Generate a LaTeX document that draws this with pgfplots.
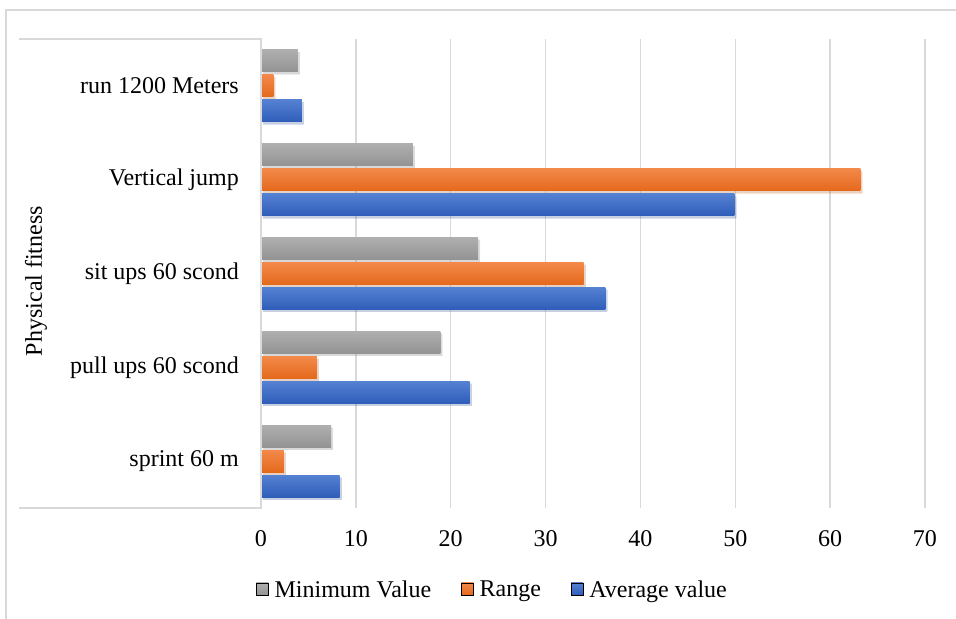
\documentclass[border=0pt]{standalone}
\usepackage{pgfplots}
\pgfplotsset{compat=1.18}
\usepackage{fontspec}
\setmainfont{Liberation Serif}
\usetikzlibrary{shadows}
\definecolor{gridgray}{HTML}{D9D9D9}
\definecolor{mintop}{HTML}{AFAFAF}
\definecolor{minbot}{HTML}{939393}
\definecolor{rngtop}{HTML}{F3894A}
\definecolor{rngbot}{HTML}{E4691C}
\definecolor{avgtop}{HTML}{5581D2}
\definecolor{avgbot}{HTML}{2F5EBA}
\newcommand\bigfont{\fontsize{24bp}{28bp}\selectfont}
\pgfplotsset{
  barshadow/.style={drop shadow={shadow xshift=2bp, shadow yshift=-2.5bp, opacity=0.18}},
  minbar/.style={draw=none, top color=mintop, bottom color=minbot, bar shift=25bp, barshadow, forget plot},
  rngbar/.style={draw=none, top color=rngtop, bottom color=rngbot, bar shift=0bp, barshadow, forget plot},
  avgbar/.style={draw=none, top color=avgtop, bottom color=avgbot, bar shift=-25bp, barshadow, forget plot},
}
\begin{document}
\begin{tikzpicture}
\useasboundingbox (-261bp,-111bp) rectangle (695bp,508bp);
\begin{axis}[
  scale only axis,
  width=664bp, height=469bp,
  xbar, bar width=22bp,
  xmin=0, xmax=70, ymin=-0.5, ymax=4.5,
  clip=false,
  axis line style={draw=none},
  major tick length=0pt,
  xtick={0,10,20,30,40,50,60,70},
  xticklabels={0,10,20,30,40,50,60,70},
  ytick={0,1,2,3,4},
  yticklabels={sprint 60 m, pull ups 60 scond, sit ups 60 scond, Vertical jump, run 1200 Meters},
  xmajorgrids, major grid style={gridgray, line width=1.5bp},
  xticklabel style={font=\bigfont, inner sep=0pt, anchor=north, yshift=-22bp},
  yticklabel style={font=\bigfont, inner sep=0pt, anchor=east, xshift=-22bp},
  ylabel={Physical fitness},
  ylabel style={font=\bigfont, at={(axis description cs:-0.3389,0.484)}, anchor=center, inner sep=0pt},
  legend columns=3,
  legend style={draw=none, fill=none, inner sep=0pt, at={(axis description cs:-0.00753,-0.1727)}, anchor=west,
    font=\bigfont, nodes={inner sep=0pt, anchor=west, text depth=0pt},
    /tikz/every odd column/.style={column sep=6bp},
    /tikz/every even column/.style={column sep=30bp}},
]
% Minimum Value
\addplot[minbar] coordinates {(7.4,0)};
\addplot[minbar] coordinates {(18.9,1)};
\addplot[minbar] coordinates {(22.9,2)};
\addplot[minbar] coordinates {(16.0,3)};
\addplot[minbar] coordinates {(3.9,4)};
% Range
\addplot[rngbar] coordinates {(2.4,0)};
\addplot[rngbar] coordinates {(5.9,1)};
\addplot[rngbar] coordinates {(34.0,2)};
\addplot[rngbar] coordinates {(63.2,3)};
\addplot[rngbar] coordinates {(1.3,4)};
% Average value
\addplot[avgbar] coordinates {(8.3,0)};
\addplot[avgbar] coordinates {(22.0,1)};
\addplot[avgbar] coordinates {(36.3,2)};
\addplot[avgbar] coordinates {(49.9,3)};
\addplot[avgbar] coordinates {(4.3,4)};
\addlegendimage{legend image code/.code={\fill[top color=mintop, bottom color=minbot] (0bp,-6bp) rectangle (12bp,6bp);}}
\addlegendimage{legend image code/.code={\fill[top color=rngtop, bottom color=rngbot] (0bp,-6bp) rectangle (12bp,6bp);}}
\addlegendimage{legend image code/.code={\fill[top color=avgtop, bottom color=avgbot] (0bp,-6bp) rectangle (12bp,6bp);}}
\legend{Minimum Value,Range,Average value}
\draw[gridgray, line width=1.5bp] ([xshift=-242bp]rel axis cs:0,1) -- (rel axis cs:0,1) -- (rel axis cs:0,0) -- ([xshift=-242bp]rel axis cs:0,0);
\end{axis}
\draw[gridgray, line width=2bp] (-255bp,-111bp) -- (-255bp,498bp) -- (695bp,498bp);
\end{tikzpicture}
\end{document}
